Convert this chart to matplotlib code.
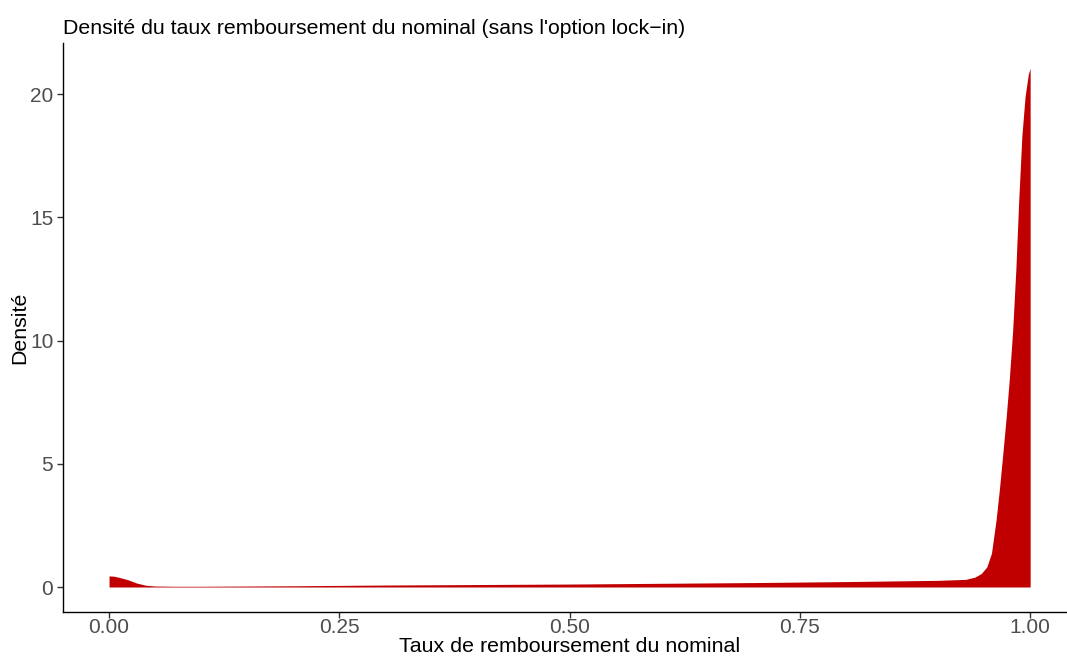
import matplotlib
matplotlib.use("Agg")
import matplotlib.pyplot as plt

plt.rcParams['font.family'] = ['Liberation Sans', 'DejaVu Sans']

# density estimate
taux = [0.0, 0.005, 0.01, 0.02, 0.03, 0.04, 0.05, 0.07, 0.1, 0.2, 0.3, 0.4,
        0.5, 0.6, 0.7, 0.8, 0.9, 0.93, 0.94, 0.947, 0.953, 0.958, 0.963,
        0.9667, 0.9703, 0.974, 0.9775, 0.981, 0.9845, 0.9875, 0.991,
        0.9945, 0.998, 1.0]
densite = [0.45, 0.44, 0.40, 0.30, 0.16, 0.07, 0.04, 0.03, 0.03, 0.05, 0.08, 0.10,
           0.12, 0.15, 0.18, 0.22, 0.27, 0.31, 0.40, 0.55, 0.82, 1.37, 2.72,
           4.0, 5.4, 6.9, 8.5, 10.4, 12.9, 15.6, 18.3,
           19.9, 20.8, 21.05]

x_ticks = [0.0, 0.25, 0.5, 0.75, 1.0]
x_labels = ["0.00", "0.25", "0.50", "0.75", "1.00"]
y_ticks = [0, 5, 10, 15, 20]

W, H = 1067, 657
fig = plt.figure(figsize=(W / 100, H / 100), dpi=100)
ax = fig.add_axes([63 / W, 45 / H, 1 - 63 / W, (612 - 43) / H])

ax.fill_between(taux, densite, 0, color="#C00000", linewidth=0)

ax.set_xlim(-0.05, 1.040)
ax.set_ylim(-1.014, 22.07)
ax.set_xticks(x_ticks)
ax.set_xticklabels(x_labels)
ax.set_yticks(y_ticks)

for s in ["top", "right"]:
    ax.spines[s].set_visible(False)
for s in ["left", "bottom"]:
    ax.spines[s].set_color("black")
    ax.spines[s].set_linewidth(1.0)
ax.tick_params(axis="both", length=4, width=1, color="#333333",
               labelcolor="#4D4D4D", labelsize=15)
ax.tick_params(axis="x", pad=0.5)
ax.tick_params(axis="y", pad=3)

ax.set_ylabel("Densité", fontsize=15.4, labelpad=0.5)
# panel is 63..1076 px wide in the original, so centre the x title on that
fig.text((63 + 1076) / 2 / W, 1 - 652 / H, "Taux de remboursement du nominal",
         fontsize=15.4, ha="center", va="baseline")
fig.text(63 / W, 1 - 34 / H, "Densité du taux remboursement du nominal (sans l'option lock\u2212in)",
         fontsize=15.3, ha="left", va="baseline")

fig.savefig("out.png", dpi=100)
